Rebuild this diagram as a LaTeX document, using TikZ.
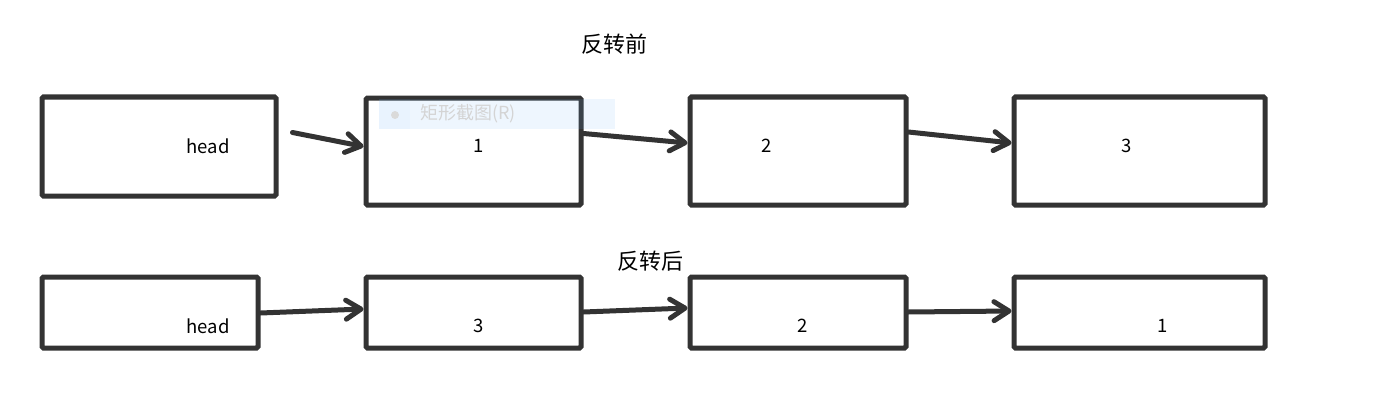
\documentclass[tikz,border=0pt]{standalone}
\usepackage{fontspec}
\setmainfont{Noto Sans CJK SC}
\usetikzlibrary{arrows.meta,calc}
\definecolor{boxline}{HTML}{333333}
\definecolor{tipblue}{RGB}{113,180,247}
\definecolor{tiptext}{HTML}{D4D4D4}
\begin{document}
\begin{tikzpicture}[x=1pt,y=1pt,
  listbox/.style={draw=boxline,line width=5pt,rounded corners=1.5pt,inner sep=0pt},
  lbl/.style={font=\fontsize{18.5}{22}\selectfont,text=black,inner sep=0pt},
  ttl/.style={font=\fontsize{22}{26}\selectfont,text=black,inner sep=0pt},
  link/.style={draw=boxline,line width=5pt,line cap=round,
    -{Straight Barb[length=15pt,width=19pt,round]}}
]
\useasboundingbox (0,0) rectangle (1382,-404);
% titles
\node[ttl] (tbefore) at (614.5,-44) {反转前};
\node[ttl] (tafter) at (650,-261) {反转后};
% top row boxes
\node[listbox,minimum width=234pt,minimum height=99pt] (th) at (159,-146.5) {};
\node[listbox,minimum width=215pt,minimum height=107pt] (t1) at (473.5,-151.5) {};
\node[listbox,minimum width=216pt,minimum height=108pt] (t2) at (798,-151) {};
\node[listbox,minimum width=251pt,minimum height=108pt] (t3) at (1139.5,-151) {};
% bottom row boxes
\node[listbox,minimum width=216pt,minimum height=71pt] (bh) at (150,-312.5) {};
\node[listbox,minimum width=215pt,minimum height=71pt] (b3) at (473.5,-312.5) {};
\node[listbox,minimum width=216pt,minimum height=71pt] (b2) at (798,-312.5) {};
\node[listbox,minimum width=251pt,minimum height=71pt] (b1) at (1139.5,-312.5) {};
% labels
\node[lbl] (lth) at (208,-146) {head};
\node[lbl] (lt1) at (479,-146) {1};
\node[lbl] (lt2) at (767,-146) {2};
\node[lbl] (lt3) at (1127,-146) {3};
\node[lbl] (lbh) at (208,-326) {head};
\node[lbl] (lb3) at (479,-326) {3};
\node[lbl] (lb2) at (803,-326) {2};
\node[lbl] (lb1) at (1163,-326) {1};
% connectors
\coordinate (hstart) at ($(th.east)+(14,14)$);
\draw[link] (hstart) -- ($(t1.west)+(0,5)$);
\draw[link] ($(t1.east)+(0,18)$) -- ($(t2.west)+(0,8)$);
\draw[link] ($(t2.east)+(0,19)$) -- ($(t3.west)+(0,8)$);
\draw[link] ($(bh.east)+(0,-0.5)$) -- ($(b3.west)+(0,3.5)$);
\draw[link] ($(b3.east)+(0,0.5)$) -- ($(b2.west)+(0,4.5)$);
\draw[link] ($(b2.east)+(0,0.5)$) -- ($(b1.west)+(0,1.5)$);
% screenshot tooltip overlay
\node[fill=tipblue,fill opacity=0.12,inner sep=0pt,minimum width=236pt,minimum height=30pt] (tip) at (497,-114) {};
\node[fill=tipblue,fill opacity=0.04,inner sep=0pt,minimum width=31pt,minimum height=30pt] (tipicon) at (394.5,-114) {};
\node[circle,fill=tiptext!85!white,inner sep=0pt,minimum size=8pt] (tipdot) at (395,-115) {};
\node[font=\fontsize{18}{22}\selectfont,text=tiptext,inner sep=0pt,anchor=west] (tiptxt) at (420,-114) {矩形截图(R)};
\end{tikzpicture}
\end{document}
